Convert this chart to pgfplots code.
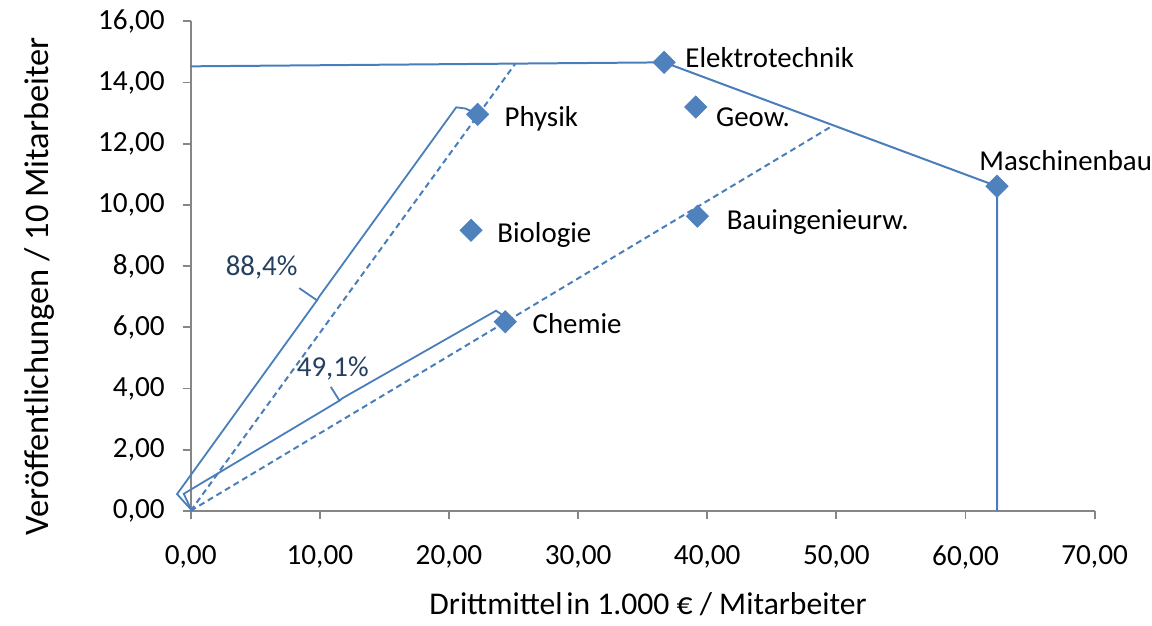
\documentclass[border=0pt]{standalone}
\usepackage{fontspec}
\setmainfont{Carlito}
\usepackage{pgfplots}
\pgfplotsset{compat=1.18}
\definecolor{ser}{HTML}{4A7EBB}
\definecolor{mk}{HTML}{4F81BD}
\definecolor{axc}{HTML}{868686}
\definecolor{pct}{HTML}{243F60}
\begin{document}
\fontsize{14.5}{17}\selectfont
\begin{tikzpicture}
\begin{axis}[
  scale only axis, width=452.5bp, height=245bp,
  xmin=0, xmax=70, ymin=0, ymax=16,
  xtick={0,10,...,70}, ytick={0,2,...,16},
  axis lines=left,
  axis line style={axc, line width=0.9bp, -},
  tick style={axc, line width=0.9bp},
  major tick length=4bp, tick align=outside,
  clip=false,
  tick label style={font=\fontsize{14.7}{17}\selectfont},
  /pgf/number format/fixed,
  /pgf/number format/fixed zerofill,
  /pgf/number format/precision=2,
  /pgf/number format/use comma,
  /pgf/number format/1000 sep={},
  /pgf/number format/assume math mode=true,
  xticklabel style={yshift=-8.5bp},
  yticklabel style={xshift=-4bp},
  xlabel={Drittmittel\kern0.12em in 1.000 € / Mitarbeiter},
  ylabel={Veröffentlichungen / 10 Mitarbeiter},
  xlabel style={font=\fontsize{15.9}{18}\selectfont, at={(axis description cs:0.506,-0.19)}, anchor=center},
  ylabel style={font=\fontsize{17.3}{20}\selectfont, at={(axis description cs:-0.167,0.459)}, anchor=center},
]
% bounding box to reproduce margins
\path (axis description cs:-0.211,-0.2204) rectangle (axis description cs:1.0619,1.0429);

% frontier
\addplot[ser, line width=1bp] coordinates {(0,14.53) (36.66,14.66) (62.44,10.61) (62.44,0)};
% rays
\addplot[ser, line width=1bp, dash pattern=on 3bp off 2bp] coordinates {(0,0) (25.14,14.62)};
\addplot[ser, line width=1bp, dash pattern=on 3bp off 2bp] coordinates {(0,0) (49.68,12.58)};
% brace 1 (Physik)
\addplot[ser, line width=0.9bp] coordinates {(0.05,0.03) (-1.06,0.545) (9.78,6.88) (8.40,7.28)};
\addplot[ser, line width=0.9bp] coordinates {(9.78,6.88) (9.95,7.0) (20.56,13.19) (21.3,13.15) (22.22,12.96)};
% brace 2 (Chemie)
\addplot[ser, line width=0.9bp] coordinates {(0.05,0.03) (-0.54,0.555) (11.52,3.6) (10.85,4.05)};
\addplot[ser, line width=0.9bp] coordinates {(11.52,3.6) (11.75,3.68) (23.64,6.54) (24.16,6.40) (24.36,6.18)};

% points
\addplot[only marks, mark=square*, mark size=3.9bp, mark options={rotate=45, fill=mk, draw=mk}] coordinates {
 (36.66,14.66) (22.22,12.96) (39.11,13.20) (62.44,10.61) (21.71,9.17) (39.24,9.63) (24.36,6.18)};

% point labels
\node[anchor=base west, inner sep=0pt, xshift=10.5bp, yshift=-2.8bp] at (axis cs:36.66,14.66) {Elektrotechnik};
\node[anchor=base west, inner sep=0pt, xshift=13.3bp, yshift=-6.2bp] at (axis cs:22.22,12.96) {Physik};
\node[anchor=base west, inner sep=0pt, xshift=10bp, yshift=-9.8bp] at (axis cs:39.11,13.20) {Geow.};
\node[anchor=base west, inner sep=0pt, xshift=-9bp, yshift=7.8bp] at (axis cs:62.44,10.61) {Maschinenbau};
\node[anchor=base west, inner sep=0pt, xshift=13bp, yshift=-6.2bp] at (axis cs:21.71,9.17) {Biologie};
\node[anchor=base west, inner sep=0pt, xshift=14.5bp, yshift=-6.7bp] at (axis cs:39.24,9.63) {Bauingenieurw.};
\node[anchor=base west, inner sep=0pt, xshift=13.5bp, yshift=-5.8bp] at (axis cs:24.36,6.18) {Chemie};

% percentage labels
\node[anchor=base, inner sep=0pt, text=pct] at (axis cs:5.49,7.70) {88,4\%};
\node[anchor=base, inner sep=0pt, text=pct] at (axis cs:11.0,4.385) {49,1\%};
\end{axis}
\end{tikzpicture}
\end{document}
